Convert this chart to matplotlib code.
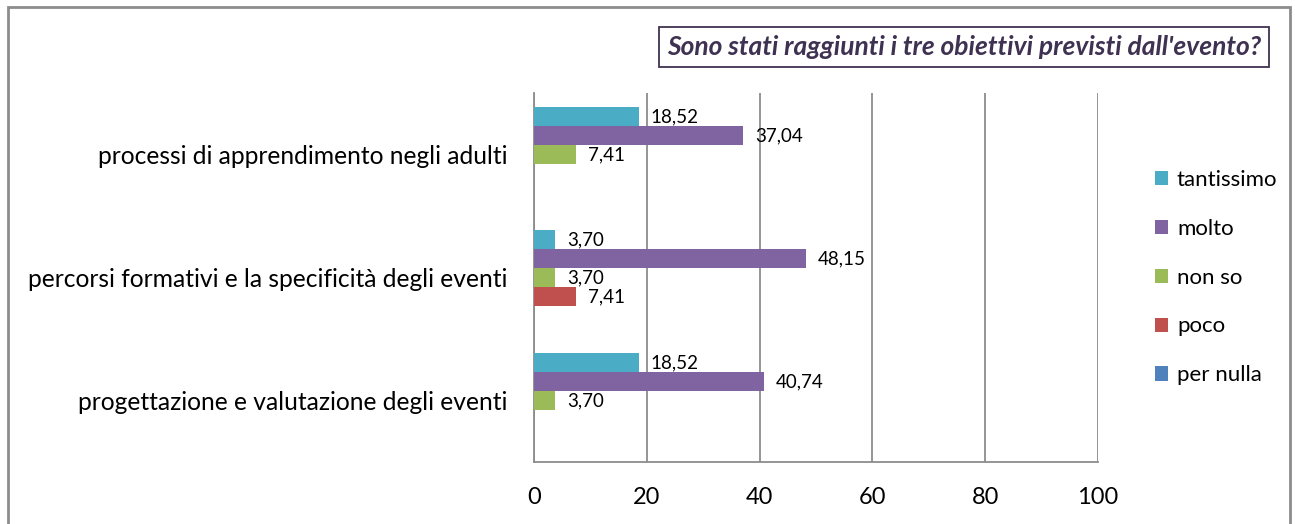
import numpy as np
import matplotlib.pyplot as plt
from matplotlib.patches import Rectangle

plt.rcParams['font.family'] = ['Lato', 'DejaVu Sans']

# Data
categories = ['processi di apprendimento negli adulti',
              'percorsi formativi e la specificità degli eventi',
              'progettazione e valutazione degli eventi']
series = ['tantissimo', 'molto', 'non so', 'poco', 'per nulla']
tantissimo = [18.52, 3.70, 18.52]
molto = [37.04, 48.15, 40.74]
non_so = [7.41, 3.70, 3.70]
poco = [0, 7.41, 0]
per_nulla = [0, 0, 0]
values = [tantissimo, molto, non_so, poco, per_nulla]
colors = ['#4BACC6', '#8064A2', '#9BBB59', '#C0504D', '#4F81BD']

fig = plt.figure(figsize=(12.95, 5.24), dpi=100)
ax = fig.add_axes([0.4124, 0.1183, 0.4355, 0.7042])

y = np.arange(len(categories))
h = 0.155
for i, (name, vals, c) in enumerate(zip(series, values, colors)):
    pos = y - 2 * h + i * h
    ax.barh(pos, vals, height=h, color=c, label=name, zorder=3)
    for p, v in zip(pos, vals):
        if v > 0:
            ax.text(v + 2.2, p, f'{v:.2f}'.replace('.', ','), va='center',
                    ha='left', fontsize=13.5, color='black', zorder=4)

ax.set_xlim(0, 100)
ax.set_ylim(len(categories) - 0.5, -0.5)
ax.set_xticks(range(0, 101, 20))
ax.tick_params(axis='x', length=0, labelsize=17, pad=18)
ax.tick_params(axis='y', length=0, labelsize=17.7, pad=19)
ax.set_yticks(y)
ax.set_yticklabels(categories)
ax.grid(axis='x', color='#8C8C8C', linewidth=1.3, zorder=0)
for s in ['top', 'right']:
    ax.spines[s].set_visible(False)
for s in ['left', 'bottom']:
    ax.spines[s].set_color('#8C8C8C')
    ax.spines[s].set_linewidth(1.3)

leg = ax.legend(loc='center left', bbox_to_anchor=(1.065, 0.5), frameon=False,
                fontsize=16, handlelength=0.6, handleheight=0.6,
                labelspacing=1.3, handletextpad=0.4)

fig.text(0.974, 0.910, "Sono stati raggiunti i tre obiettivi previsti dall'evento?",
         ha='right', va='center', fontsize=19, style='italic', fontweight='bold',
         color='#3F3151',
         bbox=dict(boxstyle='square,pad=0.3', facecolor='white',
                   edgecolor='#3F3151', linewidth=1.3))

fig.patches.append(Rectangle((0.0062, -0.01), 0.99, 0.9966, transform=fig.transFigure,
                             fill=False, edgecolor='#8C8C8C', linewidth=2))

fig.savefig('out.png', dpi=100)
